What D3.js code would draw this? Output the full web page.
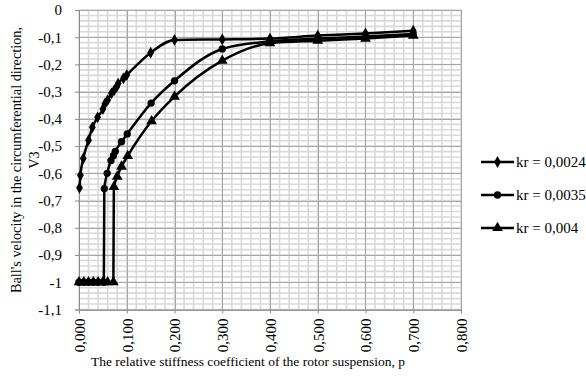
<!DOCTYPE html>
<html><head><meta charset="utf-8">
<script src="https://cdn.jsdelivr.net/npm/d3@7"></script>
<style>body{margin:0;background:#fff}svg{display:block}</style>
</head><body><svg id="c" width="586" height="378"></svg>
<script>
const xTicks = [0,0.1,0.2,0.3,0.4,0.5,0.6,0.7,0.8];
const xTickLabels = ["0,000","0,100","0,200","0,300","0,400","0,500","0,600","0,700","0,800"];
const yTicks = [0,-0.1,-0.2,-0.3,-0.4,-0.5,-0.6,-0.7,-0.8,-0.9,-1,-1.1];
const yTickLabels = ["0","-0,1","-0,2","-0,3","-0,4","-0,5","-0,6","-0,7","-0,8","-0,9","-1","-1,1"];
const seriesNames = ["kr = 0,0024","kr = 0,0035","kr = 0,004"];
const p1 = [0.001,0.003,0.009,0.02,0.028,0.039,0.05,0.054,0.06,0.068,0.074,0.079,0.082,0.093,0.1,0.15,0.2,0.3,0.4,0.5,0.6,0.7];
const v1 = [-0.653,-0.607,-0.545,-0.478,-0.431,-0.394,-0.364,-0.345,-0.331,-0.306,-0.294,-0.282,-0.27,-0.251,-0.239,-0.157,-0.11,-0.108,-0.105,-0.094,-0.086,-0.076];
const p2 = [0,0.01,0.02,0.03,0.04,0.052,0.053,0.059,0.067,0.072,0.076,0.089,0.101,0.151,0.2,0.3,0.4,0.5,0.6,0.7];
const v2 = [-1,-1,-1,-1,-1,-1,-0.656,-0.6,-0.553,-0.535,-0.519,-0.484,-0.455,-0.342,-0.26,-0.143,-0.115,-0.105,-0.097,-0.088];
const p3 = [0,0.01,0.02,0.03,0.04,0.05,0.06,0.072,0.073,0.08,0.089,0.102,0.152,0.2,0.3,0.4,0.5,0.6,0.7];
const v3 = [-1,-1,-1,-1,-1,-1,-1,-1,-0.65,-0.612,-0.575,-0.536,-0.408,-0.318,-0.186,-0.122,-0.113,-0.105,-0.094];

const FONT = "Liberation Serif";
const svg = d3.select("#c");
const L=79,R=461,T=10,B=309.5;
const x = d3.scaleLinear().domain([0,0.8]).range([L,R]);
const y = d3.scaleLinear().domain([-1.1,0]).range([B,T]);

// minor grid
const minorX = d3.range(0,0.8001,0.02), minorY = d3.range(-1.1,0.0001,0.02);
const g = svg.append("g");
g.selectAll(".mx").data(minorX).join("line").attr("x1",d=>x(d)).attr("x2",d=>x(d)).attr("y1",T).attr("y2",B).attr("stroke","#d9d9d9").attr("stroke-width",1.6);
g.selectAll(".my").data(minorY).join("line").attr("y1",d=>y(d)).attr("y2",d=>y(d)).attr("x1",L).attr("x2",R).attr("stroke","#d9d9d9").attr("stroke-width",1.6);
// major grid
g.selectAll(".Mx").data(xTicks).join("line").attr("x1",d=>Math.round(x(d))+0.5).attr("x2",d=>Math.round(x(d))+0.5).attr("y1",T).attr("y2",B).attr("stroke","#a6a6a6").attr("stroke-width",1);
g.selectAll(".My").data(yTicks).join("line").attr("y1",d=>Math.round(y(d))+0.5).attr("y2",d=>Math.round(y(d))+0.5).attr("x1",L).attr("x2",R).attr("stroke","#a6a6a6").attr("stroke-width",1);

// axes
const yAxis = d3.axisLeft(y).tickValues(yTicks).tickSize(4).tickFormat((d,i)=>yTickLabels[i]);
const ya = svg.append("g").attr("transform",`translate(${L},0)`).call(yAxis);
ya.attr("font-family",null);
ya.select(".domain").attr("stroke","#8c8c8c");
ya.selectAll(".tick line").attr("stroke","#8c8c8c");
ya.selectAll(".tick text").style("font-family",FONT).style("font-size","15px").attr("fill","#000").attr("x",-17);

const xAxis = d3.axisBottom(x).tickValues(xTicks).tickSize(4).tickFormat((d,i)=>xTickLabels[i]);
const xa = svg.append("g").attr("transform",`translate(0,${B})`).call(xAxis);
xa.attr("font-family",null);
xa.select(".domain").attr("stroke","#8c8c8c");
xa.selectAll(".tick line").attr("stroke","#8c8c8c");
xa.selectAll(".tick text").style("font-family",FONT).style("font-size","15px").attr("fill","#000")
  .attr("transform","rotate(-90)").attr("text-anchor","end").attr("x",-9).attr("y",0).attr("dy","0.35em");

// lines
const line = d3.line().x(d=>x(d[0])).y(d=>y(d[1])).curve(d3.curveMonotoneX);
const data = [d3.zip(p1,v1), d3.zip(p2,v2), d3.zip(p3,v3)];
const symbols = [d3.symbol().type(d3.symbolDiamond).size(40), d3.symbol().type(d3.symbolCircle).size(42), d3.symbol().type(d3.symbolTriangle).size(50)];
data.forEach((s,i)=>{
  svg.append("path").attr("d",line(s)).attr("fill","none").attr("stroke","#000").attr("stroke-width",2.5);
});
data.forEach((s,i)=>{
  svg.append("g").selectAll("path").data(s).join("path").attr("d",symbols[i]()).attr("transform",d=>`translate(${x(d[0])},${y(d[1])})`).attr("fill","#000");
});

// legend
const legY = [162,195,228];
seriesNames.forEach((n,i)=>{
  const lg = svg.append("g").attr("transform",`translate(481,${legY[i]})`);
  lg.append("line").attr("x1",0).attr("x2",33).attr("stroke","#000").attr("stroke-width",2.5);
  lg.append("path").attr("d",symbols[i]()).attr("transform","translate(16.5,0)").attr("fill","#000");
  lg.append("text").attr("x",35).attr("dy","0.35em").style("font-family",FONT).style("font-size","15px").text(n);
});

// titles
svg.append("text").attr("x",248).attr("y",366).attr("text-anchor","middle").style("font-family",FONT).style("font-size","13.5px").text("The relative stiffness coefficient of the rotor suspension, p");
const yt = svg.append("text").attr("transform","translate(15.5,160) rotate(-90)").attr("text-anchor","middle").style("font-family",FONT).style("font-size","14.3px");
yt.append("tspan").attr("x",0).attr("dy","0.35em").text("Ball's velocity in the circumferential direction,");
yt.append("tspan").attr("x",0).attr("dy","1.3em").text("V3");
</script></body></html>
